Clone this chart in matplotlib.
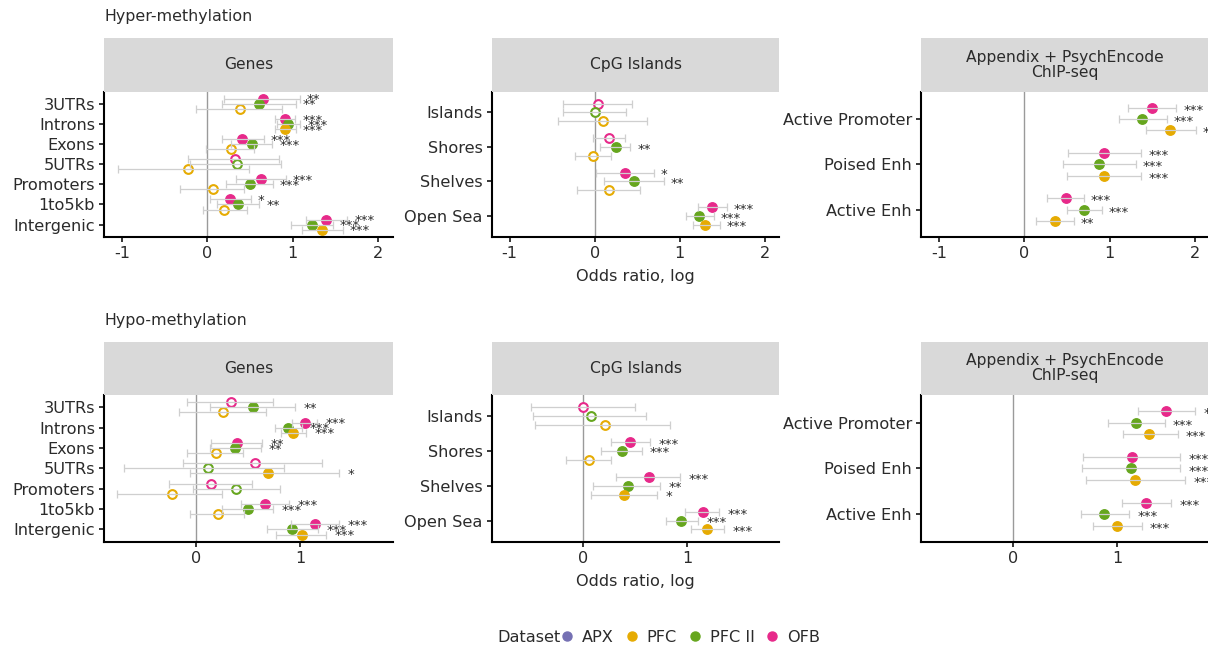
import numpy as np
import matplotlib.pyplot as plt
from matplotlib.lines import Line2D

W, H = 1208, 650

colors = {'APX': '#7570B3', 'PFC': '#E6AB02', 'PFC II': '#66A61E', 'OFB': '#E7298A'}
datasets = ['OFB', 'PFC II', 'PFC']          # top to bottom within a category
dodge = {'OFB': 0.25, 'PFC II': 0.0, 'PFC': -0.25}

genes_cats = ['3UTRs', 'Introns', 'Exons', '5UTRs', 'Promoters', '1to5kb', 'Intergenic']
cgi_cats = ['Islands', 'Shores', 'Shelves', 'Open Sea']
chip_cats = ['Active Promoter', 'Poised Enh', 'Active Enh']

# ---- hyper-methylation, log odds ratios with 95% CI
hyper_genes_est = {'OFB': [0.65, 0.91, 0.41, 0.32, 0.63, 0.27, 1.39],
                   'PFC II': [0.61, 0.95, 0.52, 0.35, 0.50, 0.36, 1.23],
                   'PFC': [0.38, 0.91, 0.28, -0.23, 0.07, 0.20, 1.34]}
hyper_genes_lo = {'OFB': [0.20, 0.79, 0.17, -0.23, 0.33, 0.03, 1.16],
                  'PFC II': [0.17, 0.82, 0.28, -0.20, 0.22, 0.11, 0.98],
                  'PFC': [-0.13, 0.79, -0.01, -1.05, -0.32, -0.05, 1.11]}
hyper_genes_hi = {'OFB': [1.08, 1.03, 0.66, 0.84, 0.92, 0.51, 1.64],
                  'PFC II': [1.04, 1.09, 0.76, 0.86, 0.77, 0.61, 1.47],
                  'PFC': [0.87, 1.04, 0.55, 0.49, 0.43, 0.46, 1.59]}
hyper_genes_sig = {'OFB': ['**', '***', '***', '', '***', '*', '***'],
                   'PFC II': ['**', '***', '***', '', '***', '**', '***'],
                   'PFC': ['', '***', '', '', '', '', '***']}

hyper_cgi_est = {'OFB': [0.035, 0.17, 0.36, 1.38],
                 'PFC II': [0.0, 0.245, 0.46, 1.23],
                 'PFC': [0.10, -0.02, 0.17, 1.30]}
hyper_cgi_lo = {'OFB': [-0.37, -0.02, 0.01, 1.21],
                'PFC II': [-0.37, 0.06, 0.11, 1.07],
                'PFC': [-0.43, -0.23, -0.21, 1.15]}
hyper_cgi_hi = {'OFB': [0.44, 0.36, 0.70, 1.55],
                'PFC II': [0.37, 0.42, 0.81, 1.40],
                'PFC': [0.62, 0.19, 0.53, 1.47]}
hyper_cgi_sig = {'OFB': ['', '', '*', '***'],
                 'PFC II': ['', '**', '**', '***'],
                 'PFC': ['', '', '', '***']}

hyper_chip_est = {'OFB': [1.49, 0.93, 0.49],
                  'PFC II': [1.38, 0.88, 0.70],
                  'PFC': [1.71, 0.93, 0.36]}
hyper_chip_lo = {'OFB': [1.21, 0.51, 0.27],
                 'PFC II': [1.11, 0.455, 0.50],
                 'PFC': [1.43, 0.50, 0.14]}
hyper_chip_hi = {'OFB': [1.78, 1.37, 0.70],
                 'PFC II': [1.67, 1.31, 0.91],
                 'PFC': [2.01, 1.37, 0.58]}
hyper_chip_sig = {'OFB': ['***', '***', '***'],
                  'PFC II': ['***', '***', '***'],
                  'PFC': ['***', '***', '**']}

# ---- hypo-methylation
hypo_genes_est = {'OFB': [0.34, 1.04, 0.39, 0.57, 0.15, 0.66, 1.14],
                  'PFC II': [0.545, 0.885, 0.375, 0.115, 0.385, 0.50, 0.92],
                  'PFC': [0.26, 0.93, 0.19, 0.69, -0.23, 0.21, 1.01]}
hypo_genes_lo = {'OFB': [-0.08, 0.92, 0.15, -0.12, -0.25, 0.43, 0.91],
                 'PFC II': [0.14, 0.76, 0.14, -0.685, -0.03, 0.25, 0.68],
                 'PFC': [-0.16, 0.815, -0.08, -0.05, -0.75, -0.05, 0.77]}
hypo_genes_hi = {'OFB': [0.74, 1.16, 0.63, 1.21, 0.54, 0.895, 1.37],
                 'PFC II': [0.95, 1.01, 0.62, 0.84, 0.80, 0.74, 1.17],
                 'PFC': [0.67, 1.05, 0.455, 1.37, 0.25, 0.465, 1.245]}
hypo_genes_sig = {'OFB': ['', '***', '**', '', '', '***', '***'],
                  'PFC II': ['**', '***', '**', '', '', '***', '***'],
                  'PFC': ['', '***', '', '*', '', '', '***']}

hypo_cgi_est = {'OFB': [0.0, 0.45, 0.63, 1.15],
                'PFC II': [0.075, 0.37, 0.43, 0.94],
                'PFC': [0.21, 0.055, 0.395, 1.185]}
hypo_cgi_lo = {'OFB': [-0.50, 0.27, 0.32, 0.98],
               'PFC II': [-0.48, 0.175, 0.10, 0.79],
               'PFC': [-0.465, -0.16, 0.08, 1.03]}
hypo_cgi_hi = {'OFB': [0.50, 0.64, 0.93, 1.30],
               'PFC II': [0.60, 0.56, 0.74, 1.10],
               'PFC': [0.83, 0.27, 0.71, 1.35]}
hypo_cgi_sig = {'OFB': ['', '***', '***', '***'],
                'PFC II': ['', '***', '**', '***'],
                'PFC': ['', '', '*', '***']}

hypo_chip_est = {'OFB': [1.465, 1.135, 1.27],
                 'PFC II': [1.18, 1.125, 0.875],
                 'PFC': [1.305, 1.17, 1.0]}
hypo_chip_lo = {'OFB': [1.20, 0.67, 1.04],
                'PFC II': [0.91, 0.66, 0.655],
                'PFC': [1.05, 0.70, 0.77]}
hypo_chip_hi = {'OFB': [1.74, 1.60, 1.51],
                'PFC II': [1.45, 1.60, 1.11],
                'PFC': [1.575, 1.645, 1.23]}
hypo_chip_sig = {'OFB': ['***', '***', '***'],
                 'PFC II': ['***', '***', '***'],
                 'PFC': ['***', '***', '***']}

TXT = '#2b2b2b'
FS = 11.6
plt.rcParams['font.family'] = 'DejaVu Sans'


def px_box(x0, x1, ytop, ybot):
    return [x0 / W, 1 - ybot / H, (x1 - x0) / W, (ybot - ytop) / H]


def forest(ax, cats, est, lo, hi, sig, xlim, xticks):
    n = len(cats)
    ypos = np.arange(n, 0, -1)
    ax.axvline(0, color='#9a9a9a', lw=1.0, zorder=1)
    for ds in datasets:
        y = ypos + dodge[ds]
        e = np.array(est[ds])
        for yi, ei, s in zip(y, e, sig[ds]):
            if s:
                ax.plot(ei, yi, 'o', ms=6.8, color=colors[ds], mec=colors[ds], zorder=2)
            else:
                ax.plot(ei, yi, 'o', ms=6.3, mfc='white', mec=colors[ds], mew=1.5, zorder=2)
        ax.errorbar(e, y, xerr=[e - np.array(lo[ds]), np.array(hi[ds]) - e], fmt='none',
                    ecolor='#cfcfcf', elinewidth=0.9, capsize=2.6, capthick=0.9, zorder=3)
        for yi, h, s in zip(y, hi[ds], sig[ds]):
            if s:
                ax.text(h + 0.08, yi - 0.06, s, fontsize=9.5, color=TXT,
                        ha='left', va='center', clip_on=False, zorder=4)
    ax.set_xlim(*xlim)
    ax.set_ylim(0.4, n + 0.6)
    ax.set_yticks(ypos)
    ax.set_yticklabels(cats)
    ax.set_xticks(xticks)
    ax.set_xticklabels([str(t) for t in xticks])
    for side in ['top', 'right']:
        ax.spines[side].set_visible(False)
    for side in ['left', 'bottom']:
        ax.spines[side].set_linewidth(1.5)
    ax.tick_params(labelsize=FS, labelcolor=TXT, length=3.5, width=1.1, pad=3)


def strip(x0, x1, ytop, ybot, label):
    s = fig.add_axes(px_box(x0, x1, ytop, ybot))
    s.set_facecolor('#d9d9d9')
    s.set_xticks([])
    s.set_yticks([])
    for sp in s.spines.values():
        sp.set_visible(False)
    s.text(0.5, 0.5, label, ha='center', va='center', fontsize=11.2,
           color=TXT, linespacing=1.0, transform=s.transAxes)


fig = plt.figure(figsize=(W / 100, H / 100), dpi=100)

cols = [(104, 392.7), (491.7, 779.3), (921, 1209.6)]
titles = ['Genes', 'CpG Islands', 'Appendix + PsychEncode\nChIP-seq']
cat_sets = [genes_cats, cgi_cats, chip_cats]

rows = [
    dict(strip=(38, 91.7), ax=(91.7, 236.7), xlim=(-1.21, 2.17), ticks=[-1, 0, 1, 2],
         data=[(hyper_genes_est, hyper_genes_lo, hyper_genes_hi, hyper_genes_sig),
               (hyper_cgi_est, hyper_cgi_lo, hyper_cgi_hi, hyper_cgi_sig),
               (hyper_chip_est, hyper_chip_lo, hyper_chip_hi, hyper_chip_sig)]),
    dict(strip=(342, 395), ax=(395, 541.7), xlim=(-0.875, 1.88), ticks=[0, 1],
         data=[(hypo_genes_est, hypo_genes_lo, hypo_genes_hi, hypo_genes_sig),
               (hypo_cgi_est, hypo_cgi_lo, hypo_cgi_hi, hypo_cgi_sig),
               (hypo_chip_est, hypo_chip_lo, hypo_chip_hi, hypo_chip_sig)]),
]

for row in rows:
    for (x0, x1), title, cats, d in zip(cols, titles, cat_sets, row['data']):
        ax = fig.add_axes(px_box(x0, x1, *row['ax']))
        forest(ax, cats, *d, row['xlim'], row['ticks'])
        strip(x0, x1, *row['strip'], title)
    # x label only under the middle panel
    xc = (cols[1][0] + cols[1][1]) / 2
    fig.text(xc / W, 1 - (row['ax'][1] + 40) / H, 'Odds ratio, log', ha='center',
             va='center', fontsize=FS, color=TXT)

fig.text(105 / W, 1 - 17 / H, 'Hyper-methylation', ha='left', va='center', fontsize=11.4, color=TXT)
fig.text(105 / W, 1 - 320 / H, 'Hypo-methylation', ha='left', va='center', fontsize=11.4, color=TXT)

# legend
handles = [Line2D([], [], ls='none', marker='o', ms=6.5, color=colors[k])
           for k in ['APX', 'PFC', 'PFC II', 'OFB']]
fig.text(561 / W, 1 - 637 / H, 'Dataset', ha='right', va='center', fontsize=FS, color=TXT)
fig.legend(handles, ['APX', 'PFC', 'PFC II', 'OFB'], loc='center left',
           bbox_to_anchor=(560.5 / W, 1 - 637 / H), ncol=4, frameon=False,
           fontsize=FS, handlelength=0.8, handletextpad=0.52, columnspacing=0.72,
           labelcolor=TXT, borderaxespad=0, borderpad=0)

fig.savefig('out.png', dpi=100)
